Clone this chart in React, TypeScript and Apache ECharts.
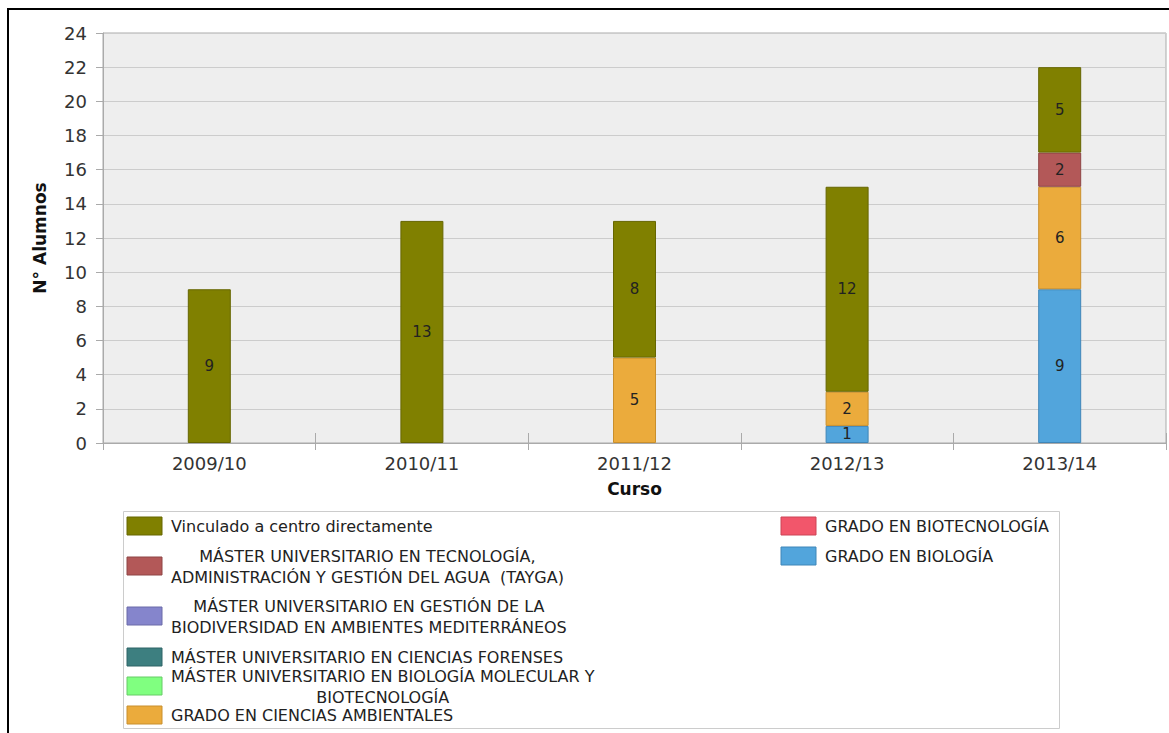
import React, { useEffect, useRef } from "react";
import * as echarts from "echarts";

const categories = ["2009/10", "2010/11", "2011/12", "2012/13", "2013/14"];

// Legend order (top to bottom, left column then right column)
const seriesNames = [
  "Vinculado a centro directamente",
  "MÁSTER UNIVERSITARIO EN TECNOLOGÍA,\nADMINISTRACIÓN Y GESTIÓN DEL AGUA  (TAYGA)",
  "MÁSTER UNIVERSITARIO EN GESTIÓN DE LA\nBIODIVERSIDAD EN AMBIENTES MEDITERRÁNEOS",
  "MÁSTER UNIVERSITARIO EN CIENCIAS FORENSES",
  "MÁSTER UNIVERSITARIO EN BIOLOGÍA MOLECULAR Y\nBIOTECNOLOGÍA",
  "GRADO EN CIENCIAS AMBIENTALES",
  "GRADO EN BIOTECNOLOGÍA",
  "GRADO EN BIOLOGÍA",
];

const vinculado = [9, 13, 8, 12, 5];
const tayga = [0, 0, 0, 0, 2];
const biodiversidad = [0, 0, 0, 0, 0];
const forenses = [0, 0, 0, 0, 0];
const biologiaMolecular = [0, 0, 0, 0, 0];
const cienciasAmbientales = [0, 0, 5, 2, 6];
const biotecnologia = [0, 0, 0, 0, 0];
const biologia = [0, 0, 0, 1, 9];

const seriesValues = [
  vinculado,
  tayga,
  biodiversidad,
  forenses,
  biologiaMolecular,
  cienciasAmbientales,
  biotecnologia,
  biologia,
];

const yTicks = { min: 0, max: 24, interval: 2 };

const seriesColors = [
  "#808000",
  "#b35858",
  "#8585cc",
  "#3d7f80",
  "#80ff80",
  "#ebab3c",
  "#f2566b",
  "#52a5dc",
];
const seriesBorders = [
  "#666600",
  "#8e4444",
  "#6a6aa8",
  "#2f6566",
  "#66cc66",
  "#c98f2c",
  "#cc4456",
  "#3f86b8",
];

// legend layout (swatch centre positions)
const legendSlots = [
  { x: 127, y: 526, col: 0 },
  { x: 127, y: 566, col: 0 },
  { x: 127, y: 616, col: 0 },
  { x: 127, y: 657, col: 0 },
  { x: 127, y: 686, col: 0 },
  { x: 127, y: 715, col: 0 },
  { x: 781, y: 526, col: 1 },
  { x: 781, y: 556, col: 1 },
];

const FONT = "DejaVu Sans";

function measure(text: string, size: number): number {
  const c = document.createElement("canvas").getContext("2d");
  if (!c) return text.length * size * 0.6;
  c.font = `${size}px "${FONT}"`;
  return c.measureText(text).width;
}

export default function App() {
  const ref = useRef<HTMLDivElement>(null);

  useEffect(() => {
    if (!ref.current) return;
    const chart = echarts.init(ref.current, null, { renderer: "svg" });

    const legendFont = 16;
    const legendGraphics: any[] = [];
    seriesNames.forEach((name, i) => {
      const slot = legendSlots[i];
      legendGraphics.push({
        type: "rect",
        shape: { x: slot.x, y: slot.y - 9, width: 35, height: 18 },
        style: { fill: seriesColors[i], stroke: seriesBorders[i], lineWidth: 1 },
        z: 10,
      });
      const lines = name.split("\n");
      const textLeft = slot.x + 44;
      if (lines.length === 1) {
        legendGraphics.push({
          type: "text",
          x: textLeft,
          y: slot.y,
          style: {
            text: name,
            font: `${legendFont}px "${FONT}"`,
            fill: "#222",
            align: "left",
            verticalAlign: "middle",
          },
          z: 10,
        });
      } else {
        const w = Math.max(...lines.map((l) => measure(l, legendFont)));
        legendGraphics.push({
          type: "text",
          x: textLeft + w / 2,
          y: slot.y + 1,
          style: {
            text: name,
            font: `${legendFont}px "${FONT}"`,
            fill: "#222",
            align: "center",
            verticalAlign: "middle",
            lineHeight: 21,
          },
          z: 10,
        });
      }
    });

    const stackOrder = seriesNames.map((_, i) => i).reverse();

    const option: any = {
      animation: false,
      backgroundColor: "#ffffff",
      textStyle: { fontFamily: FONT },
      grid: {
        left: 103,
        right: 3,
        top: 33,
        bottom: 290,
        show: true,
        backgroundColor: "#eeeeee",
        borderColor: "#aaaaaa",
        borderWidth: 1,
      },
      xAxis: [
        {
          type: "category",
          data: categories,
          position: "bottom",
          name: "Curso",
          nameLocation: "middle",
          nameGap: 37,
          nameTextStyle: { fontFamily: FONT, fontSize: 17, fontWeight: "bold", color: "#111" },
          axisLine: { show: true, lineStyle: { color: "#aaaaaa" } },
          axisTick: { show: true, length: 7, lineStyle: { color: "#aaaaaa" } },
          axisLabel: { fontFamily: FONT, fontSize: 18, color: "#333", margin: 11 },
        },
        {
          type: "category",
          data: categories,
          position: "bottom",
          axisLine: { show: false },
          axisTick: { show: true, inside: true, length: 10, lineStyle: { color: "#aaaaaa" } },
          axisLabel: { show: false },
        },
      ],
      yAxis: {
        type: "value",
        min: yTicks.min,
        max: yTicks.max,
        interval: yTicks.interval,
        name: "N° Alumnos",
        nameLocation: "middle",
        nameGap: 55,
        nameTextStyle: { fontFamily: FONT, fontSize: 17, fontWeight: "bold", color: "#111" },
        axisLine: { show: true, lineStyle: { color: "#aaaaaa" } },
        axisTick: { show: true, length: 7, lineStyle: { color: "#aaaaaa" } },
        axisLabel: { fontFamily: FONT, fontSize: 18, color: "#333", margin: 16 },
        splitLine: { show: true, lineStyle: { color: "#cccccc", width: 1 } },
      },
      series: stackOrder.map((i) => ({
        type: "bar",
        name: seriesNames[i],
        stack: "total",
        xAxisIndex: 0,
        barWidth: 43,
        data: seriesValues[i].map((v) => (v === 0 ? null : v)),
        itemStyle: { color: seriesColors[i], borderColor: seriesBorders[i], borderWidth: 1 },
        label: {
          show: true,
          position: "inside",
          fontFamily: FONT,
          fontSize: 15,
          color: "#222",
          formatter: (p: any) => (p.value ? String(p.value) : ""),
        },
      })),
      graphic: [
        {
          type: "rect",
          shape: { x: 8, y: 9, width: 1200, height: 800 },
          style: { fill: "none", stroke: "#000", lineWidth: 2 },
          z: 0,
        },
        {
          type: "rect",
          shape: { x: 123.5, y: 511.5, width: 936, height: 217 },
          style: { fill: "#fff", stroke: "#cccccc", lineWidth: 1 },
          z: 5,
        },
        ...legendGraphics,
      ],
    };

    chart.setOption(option);
    return () => chart.dispose();
  }, []);

  return (
    <div
      ref={ref}
      style={{ position: "absolute", left: 0, top: 0, width: 1169, height: 733 }}
    />
  );
}
